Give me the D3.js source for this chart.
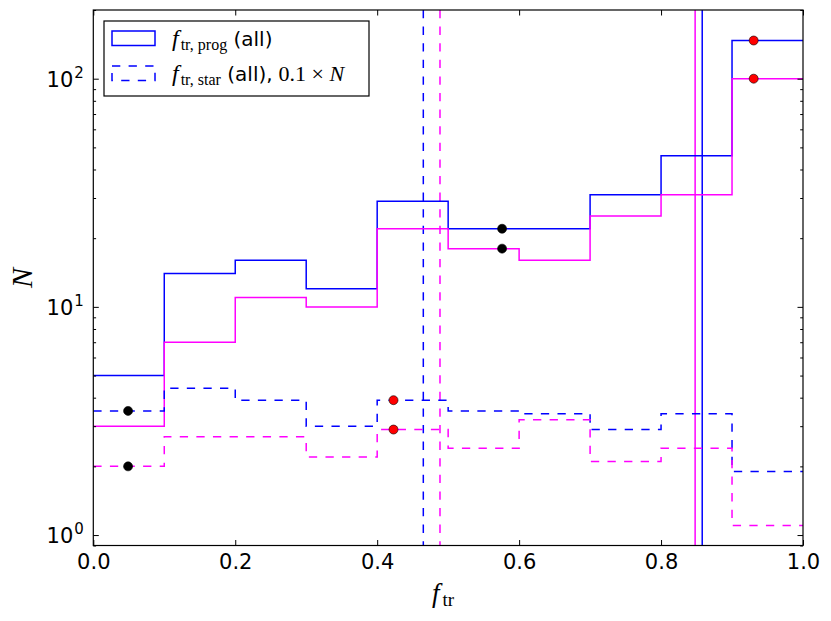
<!DOCTYPE html>
<html>
<head>
<meta charset="utf-8">
<script src="https://cdn.jsdelivr.net/npm/d3@7"></script>
<style>
  body { margin: 0; background: #fff; }
  svg { display: block; }
  .tick text { font-family: "DejaVu Sans", sans-serif; }
</style>
</head>
<body>
<div id="chart"></div>
<script>
/* data */
var binEdges = [0.0, 0.1, 0.2, 0.3, 0.4, 0.5, 0.6, 0.7, 0.8, 0.9, 1.0]
var progBlue = [5, 14, 16, 12, 29, 22, 22, 31, 46, 147]
var progMagenta = [3, 7, 11, 10, 22, 18, 16, 25, 31, 100]
var starBlue = [3.5, 4.4, 3.9, 3.0, 3.9, 3.5, 3.4, 2.9, 3.4, 1.9]      // already 0.1 x N
var starMagenta = [2.0, 2.7, 2.7, 2.2, 2.9, 2.4, 3.2, 2.1, 2.4, 1.1]
var blackDots = [[0.049, 3.5], [0.049, 2.0], [0.576, 22], [0.576, 18]]
var redDots = [[0.423, 3.9], [0.423, 2.9], [0.9305, 147], [0.9305, 100]]
var vLines = [
  { x: 0.465, color: "#0000ff", dashed: true },
  { x: 0.4885, color: "#ff00ff", dashed: true },
  { x: 0.848, color: "#ff00ff", dashed: false },
  { x: 0.858, color: "#0000ff", dashed: false }
]
var xTicks = [0.0, 0.2, 0.4, 0.6, 0.8, 1.0]
var yMajor = [1, 10, 100]
var yExp = ["0", "1", "2"]

var W = 831, H = 621
var m = { left: 93.3, right: 28, top: 10, bottom: 75.5 }
var pw = W - m.left - m.right, ph = H - m.top - m.bottom
var DASH = "8.3,8.3"
var LW = 1.5

var svg = d3.select("#chart").append("svg")
    .attr("width", W).attr("height", H)

var x = d3.scaleLinear().domain([0, 1]).range([0, pw])
var y = d3.scaleLog().domain([0.9, 200]).range([ph, 0])

var g = svg.append("g").attr("transform", "translate(" + m.left + "," + m.top + ")")

g.append("clipPath").attr("id", "clip")
  .append("rect").attr("width", pw).attr("height", ph)

var plot = g.append("g").attr("clip-path", "url(#clip)")

/* step histograms */
var stepLine = d3.line()
    .x(function (d) { return x(d[0]) })
    .y(function (d) { return y(d[1]) })
    .curve(d3.curveStepAfter)

function steps(vals) {
  var pts = vals.map(function (v, i) { return [binEdges[i], v] })
  pts.push([binEdges[binEdges.length - 1], vals[vals.length - 1]])
  return pts
}

var series = [
  { vals: progBlue, color: "#0000ff", dashed: false },
  { vals: progMagenta, color: "#ff00ff", dashed: false },
  { vals: starBlue, color: "#0000ff", dashed: true },
  { vals: starMagenta, color: "#ff00ff", dashed: true }
]

/* vertical lines */
plot.selectAll("line.v").data(vLines).enter().append("line")
    .attr("x1", function (d) { return x(d.x) })
    .attr("x2", function (d) { return x(d.x) })
    .attr("y1", 0).attr("y2", ph)
    .attr("stroke", function (d) { return d.color })
    .attr("stroke-width", LW)
    .attr("stroke-dasharray", function (d) { return d.dashed ? DASH : null })

plot.selectAll("path.step").data(series).enter().append("path")
    .attr("class", "step")
    .attr("d", function (d) { return stepLine(steps(d.vals)) })
    .attr("fill", "none")
    .attr("stroke", function (d) { return d.color })
    .attr("stroke-width", LW)
    .attr("stroke-dasharray", function (d) { return d.dashed ? DASH : null })

/* markers */
plot.selectAll("circle.k").data(blackDots).enter().append("circle")
    .attr("cx", function (d) { return x(d[0]) })
    .attr("cy", function (d) { return y(d[1]) })
    .attr("r", 4.5).attr("fill", "#000").attr("stroke", "#000").attr("stroke-width", 0.6)

plot.selectAll("circle.r").data(redDots).enter().append("circle")
    .attr("cx", function (d) { return x(d[0]) })
    .attr("cy", function (d) { return y(d[1]) })
    .attr("r", 4.5).attr("fill", "#ff0000").attr("stroke", "#000").attr("stroke-width", 0.6)

/* axes, ticks pointing in */
var minorVals = y.ticks().filter(function (v) { return yMajor.indexOf(v) < 0 })

g.append("g").attr("transform", "translate(0," + ph + ")")
    .call(d3.axisBottom(x).tickValues(xTicks).tickSizeInner(-5.5).tickSizeOuter(0).tickPadding(9)
      .tickFormat(d3.format(".1f")))
g.append("g")
    .call(d3.axisTop(x).tickValues(xTicks).tickSizeInner(-5.5).tickSizeOuter(0).tickFormat(""))
g.append("g")
    .call(d3.axisLeft(y).tickValues(yMajor).tickSizeInner(-5.5).tickSizeOuter(0).tickFormat(""))
g.append("g")
    .call(d3.axisLeft(y).tickValues(minorVals).tickSizeInner(-2.8).tickSizeOuter(0).tickFormat(""))
g.append("g").attr("transform", "translate(" + pw + ",0)")
    .call(d3.axisRight(y).tickValues(yMajor).tickSizeInner(-5.5).tickSizeOuter(0).tickFormat(""))
g.append("g").attr("transform", "translate(" + pw + ",0)")
    .call(d3.axisRight(y).tickValues(minorVals).tickSizeInner(-2.8).tickSizeOuter(0).tickFormat(""))

g.selectAll(".domain").remove()
g.selectAll(".tick line").attr("stroke", "#000").attr("stroke-width", 1)
g.selectAll(".tick text").attr("font-size", 21).attr("fill", "#000")

g.append("rect").attr("width", pw).attr("height", ph)
    .attr("fill", "none").attr("stroke", "#000").attr("stroke-width", 1.2)

/* y tick labels 10^n */
var ylab = g.selectAll("text.ylab").data(yMajor).enter().append("text")
    .attr("x", -20).attr("y", function (d) { return y(d) + 8 })
    .attr("text-anchor", "end")
    .attr("font-family", "DejaVu Sans").attr("font-size", 21)
ylab.append("tspan").text("10")
g.selectAll("text.yexp").data(yMajor).enter().append("text")
    .attr("x", -19).attr("y", function (d) { return y(d) - 1 })
    .attr("font-family", "DejaVu Sans").attr("font-size", 15)
    .text(function (d, i) { return yExp[i] })

/* axis titles */
var xt = svg.append("text")
    .attr("x", 432).attr("y", 602)
    .attr("font-family", "Liberation Serif")
xt.append("tspan").attr("font-style", "italic").attr("font-size", 27).text("f")
xt.append("tspan").attr("font-size", 19).attr("dx", 3).attr("dy", 4).text("tr")

svg.append("text")
    .attr("transform", "translate(32,278) rotate(-90)")
    .attr("text-anchor", "middle")
    .attr("font-family", "Liberation Serif").attr("font-style", "italic").attr("font-size", 30)
    .text("N")

/* legend */
var lg = svg.append("g")
lg.append("rect").attr("x", 104).attr("y", 21).attr("width", 265).attr("height", 75)
    .attr("fill", "#fff").attr("stroke", "#000").attr("stroke-width", 1.2)

var legendItems = [
  { sub: "tr, prog", rest: " (all)", tail: "", dashed: false, ty: 46, ry: 31 },
  { sub: "tr, star", rest: " (all),", tail: "0.1 \u00d7 ", dashed: true, ty: 81, ry: 66 }
]
legendItems.forEach(function (it) {
  lg.append("rect").attr("x", 112).attr("y", it.ry).attr("width", 43).attr("height", 14.5)
      .attr("fill", "none").attr("stroke", "#0000ff").attr("stroke-width", LW)
      .attr("stroke-dasharray", it.dashed ? DASH : null)
  var t = lg.append("text").attr("x", 172).attr("y", it.ty)
  t.append("tspan").attr("font-family", "Liberation Serif").attr("font-style", "italic")
      .attr("font-size", 24).text("f")
  t.append("tspan").attr("font-family", "Liberation Serif").attr("font-size", 16)
      .attr("dx", 2).attr("dy", 4).text(it.sub)
  t.append("tspan").attr("font-family", "DejaVu Sans").attr("font-size", 20)
      .attr("dy", -4).text(it.rest)
  if (it.tail) {
    t.append("tspan").attr("font-family", "Liberation Serif").attr("font-size", 22)
        .attr("dx", 6).text(it.tail)
    t.append("tspan").attr("font-family", "Liberation Serif").attr("font-style", "italic")
        .attr("font-size", 22).text("N")
  }
})
</script>
</body>
</html>
